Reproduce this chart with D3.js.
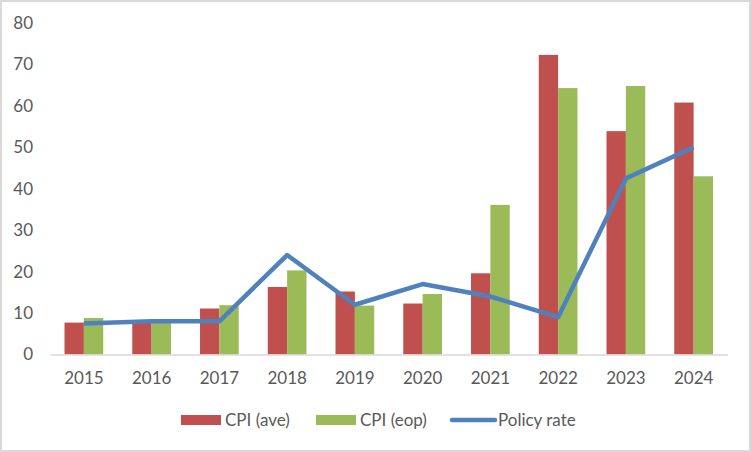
<!DOCTYPE html>
<html><head><meta charset="utf-8">
<script src="https://cdn.jsdelivr.net/npm/d3@7"></script>
<style>body{margin:0;background:#fff}svg{display:block}</style>
</head><body>
<script>
const years = ["2015","2016","2017","2018","2019","2020","2021","2022","2023","2024"];
const cpiAve = [7.7, 7.8, 11.1, 16.3, 15.2, 12.3, 19.6, 72.3, 53.9, 60.8];
const cpiEop = [8.8, 8.5, 11.9, 20.3, 11.8, 14.6, 36.1, 64.3, 64.8, 43.0];
const policyRate = [7.5, 8.0, 8.0, 24.0, 12.0, 17.0, 14.0, 9.0, 42.5, 50.0];
const yTicks = [0,10,20,30,40,50,60,70,80];
const seriesNames = ["CPI (ave)","CPI (eop)","Policy rate"];
const colors = ["#c0504d","#9bbb59","#4f81bd"];

const W=751,H=452;
const svg=d3.select("body").append("svg").attr("width",W).attr("height",H);
svg.append("rect").attr("x",1).attr("y",1).attr("width",W-2).attr("height",H-2)
  .attr("fill","#fff").attr("stroke","#d9d9d9").attr("stroke-width",2);

const x0=50,x1=727.5,yb=354.5,yt=23;
const x=d3.scaleBand().domain(years).range([x0,x1]).paddingInner(0).paddingOuter(0);
const y=d3.scaleLinear().domain([0,80]).range([yb,yt]);
const bw=x.bandwidth()/3.5;
const font="Lato, 'Open Sans', sans-serif";
const tc="#595959";
const fs=17;

// bars
const g=svg.append("g");
[cpiAve,cpiEop].forEach((vals,si)=>{
  g.selectAll(null).data(vals).enter().append("rect")
    .attr("x",(d,i)=>x(years[i])+x.bandwidth()/2-bw+si*bw)
    .attr("y",d=>y(d)).attr("width",bw).attr("height",d=>y(0)-y(d))
    .attr("fill",colors[si]);
});

// x axis
const xa=svg.append("g").attr("transform",`translate(0,${yb})`).call(d3.axisBottom(x).tickSize(0).tickPadding(17));
xa.select(".domain").attr("stroke","#d9d9d9").attr("stroke-width",1.5);
xa.selectAll("text").attr("font-family",font).attr("font-size",fs).attr("fill",tc);

// y axis
const ya=svg.append("g").attr("transform",`translate(33,0)`).call(d3.axisLeft(y).tickValues(yTicks).tickSize(0).tickPadding(0));
ya.select(".domain").remove();
ya.selectAll("text").attr("font-family",font).attr("font-size",fs).attr("fill",tc);

// line
const line=d3.line().x((d,i)=>x(years[i])+x.bandwidth()/2).y(d=>y(d));
svg.append("path").datum(policyRate).attr("d",line).attr("fill","none")
  .attr("stroke",colors[2]).attr("stroke-width",4.5).attr("stroke-linejoin","round");

// legend
const ly=420;
const lg=svg.append("g").attr("font-family",font).attr("font-size",fs).attr("fill",tc);
const items=[{x:181,t:"rect"},{x:316,t:"rect"},{x:452,t:"line"}];
items.forEach((it,i)=>{
  if(it.t==="rect") lg.append("rect").attr("x",it.x).attr("y",ly-5).attr("width",40).attr("height",10).attr("fill",colors[i]);
  else lg.append("line").attr("x1",it.x).attr("x2",it.x+43).attr("y1",ly).attr("y2",ly).attr("stroke",colors[i]).attr("stroke-width",4.5).attr("stroke-linecap","round");
  lg.append("text").attr("x",it.x+(it.t==="rect"?44:46)).attr("y",ly).attr("dy","0.35em").text(seriesNames[i]);
});
</script>
</body></html>
